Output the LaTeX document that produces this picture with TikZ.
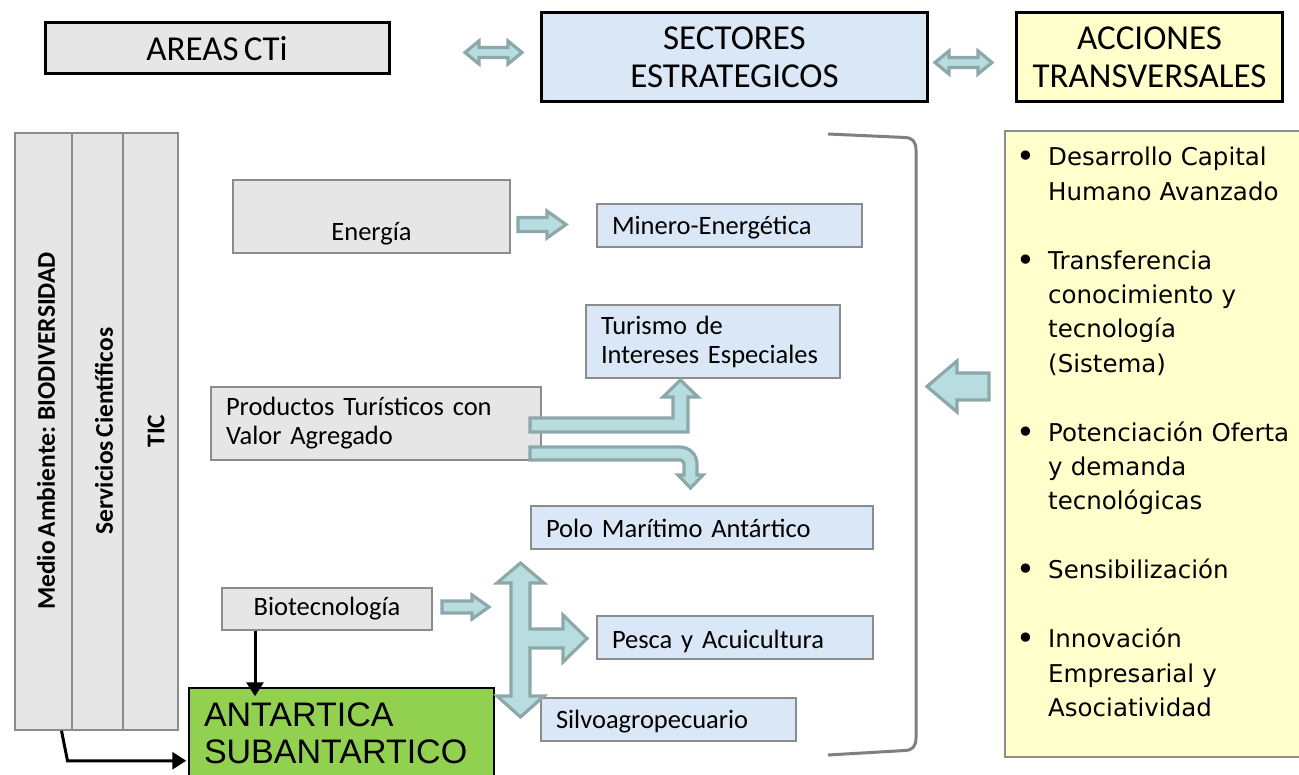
\documentclass[tikz,border=0pt]{standalone}
\usepackage{fontspec}
\setmainfont{Carlito}[WordSpace=0.65]
\newfontfamily\listfont{DejaVu Sans}
\newfontfamily\arialfont{Liberation Sans}
\usetikzlibrary{arrows.meta,calc}
\definecolor{boxgray}{HTML}{E6E6E6}
\definecolor{edgegray}{HTML}{8C8C8C}
\definecolor{boxblue}{HTML}{DAE7F6}
\definecolor{boxyellow}{HTML}{FFFFCC}
\definecolor{boxgreen}{HTML}{92D050}
\definecolor{arrfill}{HTML}{B7DDE0}
\definecolor{arrline}{HTML}{8DA8A9}
\definecolor{brk}{HTML}{7F7F7F}
\newcommand{\bulletmark}{\llap{\raisebox{-2pt}{\fontsize{32}{32}\selectfont\textbullet}\hspace{13pt}}}
\newcommand{\lowertext}[2]{\raisebox{-#1}[\height][\depth]{#2}}
\begin{document}
\begin{tikzpicture}[x=1pt,y=-1pt,
  hdr/.style={draw=black, line width=3pt, inner sep=0pt, align=center,
    font=\fontsize{35}{38}\selectfont},
  gbox/.style={draw=edgegray, line width=1.5pt, fill=boxgray, inner sep=0pt,
    font=\fontsize{26.5}{29}\selectfont},
  bbox/.style={draw=edgegray, line width=1.5pt, fill=boxblue, inner sep=0pt,
    font=\fontsize{26.5}{29}\selectfont},
  colbox/.style={draw=edgegray, line width=1.5pt, fill=boxgray, inner sep=0pt,
    minimum height=597pt},
  vtext/.style={rotate=90, inner sep=0pt, font=\bfseries\fontsize{25.5}{28}\selectfont},
  blockarrow/.style={fill=arrfill, draw=arrline, line width=3.2pt, line join=miter},
  blk/.style={draw=black, line width=3pt, -{Triangle[length=14pt,width=17pt]}},
  listitem/.style={anchor=base west, inner sep=0pt, text width=250pt, align=left,
    font=\listfont\fontsize{24.5}{34.4}\selectfont},
]
\useasboundingbox (0,0) rectangle (1299,775);
\fill[white] (0,0) rectangle (1299,775);

% header boxes
\node[hdr, fill=boxgray, minimum width=344pt, minimum height=51pt] (areas) at (217,48.5) {AREAS CTi};
\node[hdr, fill=boxblue, minimum width=386pt, minimum height=89pt] (sect) at (734.5,57.5) {SECTORES\\ESTRATEGICOS};
\node[hdr, fill=boxyellow, minimum width=266pt, minimum height=89pt] (acc) at (1149.5,57.5) {ACCIONES\\TRANSVERSALES};

% left columns
\node[colbox, minimum width=57pt] (c1) at (43.5,431.5) {};
\node[colbox, minimum width=51pt] (c2) at (97.5,431.5) {};
\node[colbox, minimum width=55pt] (c3) at (150.5,431.5) {};
\node[vtext] (t1) at (46,431) {Medio Ambiente: BIODIVERSIDAD};
\node[vtext] (t2) at (104,431) {Servicios Científicos};
\node[vtext] (t3) at (156,431) {TIC};

% gray boxes
\node[gbox, minimum width=277pt, minimum height=73pt, align=center] (ener) at (371.5,216.5) {\raisebox{-24pt}[0pt][0pt]{Energía}};
\node[gbox, minimum width=330pt, minimum height=73pt, text width=300pt, align=left] (prod) at (376,423.5) {Productos Turísticos con\\Valor Agregado};
\node[gbox, minimum width=210pt, minimum height=42pt, align=center] (bio) at (327,609) {Biotecnología};

% blue boxes
\node[bbox, minimum width=265pt, minimum height=43pt, text width=235pt, align=left] (mine) at (729.5,225.5) {\lowertext{2.5pt}{Minero-Energética}};
\node[bbox, minimum width=254pt, minimum height=73pt, text width=224pt, align=left] (turi) at (713,341.5) {Turismo de\\Intereses Especiales};
\node[bbox, minimum width=342pt, minimum height=43pt, text width=312pt, align=left] (polo) at (702,527.5) {\lowertext{1pt}{Polo Marítimo Antártico}};
\node[bbox, minimum width=276pt, minimum height=43pt, text width=246pt, align=left] (pesc) at (735,637.5) {\lowertext{3.5pt}{Pesca y Acuicultura}};
\node[bbox, minimum width=255pt, minimum height=43pt, text width=225pt, align=left] (silv) at (668.5,719.5) {\lowertext{2.5pt}{Silvoagropecuario}};

% green box
\node[draw=black, line width=1.5pt, fill=boxgreen, inner sep=0pt, minimum width=305pt, minimum height=90pt,
  text width=275pt, align=left, font=\arialfont\fontsize{34}{37}\selectfont] (ant) at (341.5,733) {ANTARTICA\\SUBANTARTICO};

% yellow list box
\node[draw=edgegray, line width=1.5pt, fill=boxyellow, inner sep=0pt, minimum width=300pt, minimum height=626pt] (lst) at (1155,444) {};
\node[listitem] (i1) at (1048,166) {\bulletmark Desarrollo Capital\\Humano Avanzado};
\node[listitem] (i2) at (1048,269.2) {\bulletmark Transferencia\\conocimiento y\\tecnología\\(Sistema)};
\node[listitem] (i3) at (1048,441.2) {\bulletmark Potenciación Oferta\\y demanda\\tecnológicas};
\node[listitem] (i4) at (1048,578.8) {\bulletmark Sensibilización};
\node[listitem] (i5) at (1048,647.6) {\bulletmark Innovación\\Empresarial y\\Asociatividad};

% bracket
\draw[brk, line width=3pt] (828,134) -- (905,137.5) .. controls (913,138) and (916,142) .. (916,150)
  -- (916,738) .. controls (916,746) and (913,750) .. (905,750.5) -- (828,755);

% block arrows
\draw[blockarrow] (465,52.5) -- (479,41) -- (479,47.5) -- (508,47.5) -- (508,41) -- (522,52.5)
  -- (508,64) -- (508,57.5) -- (479,57.5) -- (479,64) -- cycle;
\draw[blockarrow] (935,62.5) -- (949,51) -- (949,57.5) -- (978,57.5) -- (978,51) -- (992,62.5)
  -- (978,74) -- (978,67.5) -- (949,67.5) -- (949,74) -- cycle;
\draw[blockarrow] (518,217.5) -- (547,217.5) -- (547,211) -- (566,224.5) -- (547,238) -- (547,231.5) -- (518,231.5) -- cycle;
\draw[blockarrow] (442,601) -- (472,601) -- (472,595) -- (489,607) -- (472,619) -- (472,613) -- (442,613) -- cycle;
\draw[blockarrow] (927,386.5) -- (957,361) -- (957,373) -- (989,373) -- (989,400) -- (957,400) -- (957,412) -- cycle;
\draw[blockarrow] (530,418) -- (673,418) -- (673,397) -- (663,397) -- (680.5,380) -- (698,397) -- (688,397)
  -- (688,432) -- (530,432) -- cycle;
\draw[blockarrow] (530,447) -- (680,447) .. controls (689.4,447) and (697,454.6) .. (697,464) -- (697,475)
  -- (703,475) -- (690.5,488) -- (678,475) -- (684,475) -- (684,464) .. controls (684,461.8) and (682.2,460) .. (680,460)
  -- (530,460) -- cycle;
\draw[blockarrow] (520.5,563) -- (544,583) -- (530,583) -- (530,629) -- (563,629) -- (563,615) -- (587,638.5)
  -- (563,662) -- (563,648) -- (530,648) -- (530,696) -- (544,696) -- (520.5,717) -- (497,696) -- (511,696)
  -- (511,583) -- (497,583) -- cycle;

% black arrows
\draw[blk] ([xshift=-72pt]bio.south) -- ($([xshift=-72pt]bio.south |- ant.north)+(0,9)$);
\draw[blk] ([xshift=18pt]c1.south) -- ++(6,30) coordinate (m) -- ([xshift=-2pt]m -| ant.west);
\end{tikzpicture}
\end{document}
